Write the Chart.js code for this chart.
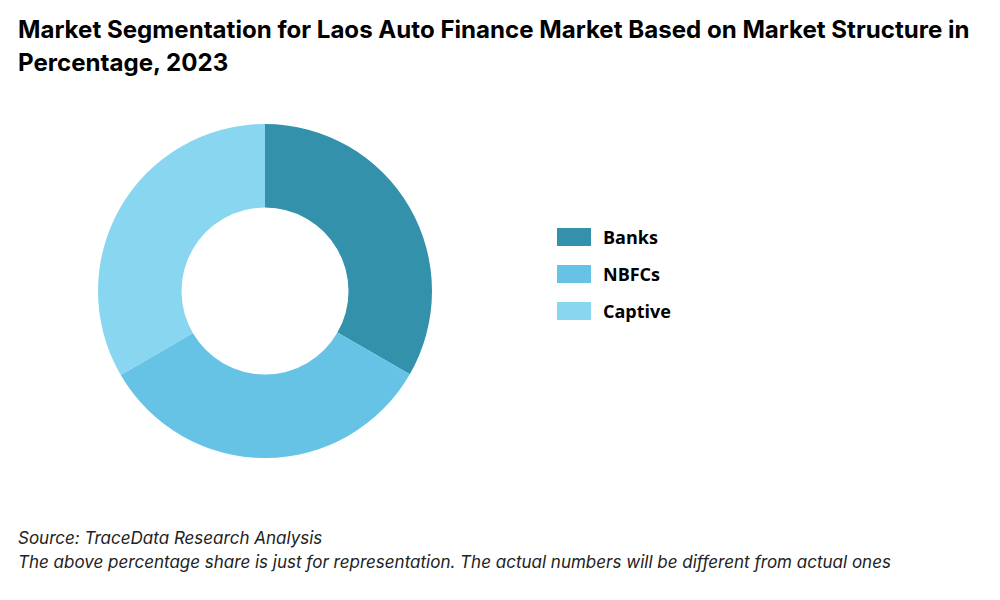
<!DOCTYPE html>
<html>
<head>
<meta charset="utf-8">
<script src="https://cdn.jsdelivr.net/npm/chart.js@4"></script>
<style>
body { margin: 0; width: 1000px; height: 600px; background: #fff; font-family: Inter, sans-serif; position: relative; overflow: hidden; }
#title { position: absolute; left: 18px; top: 13px; width: 978px; font-size: 24.1px; font-weight: 700; line-height: 33px; color: #000; }
#wrap { position: absolute; left: 98px; top: 124px; width: 334px; height: 334px; }
#legend { position: absolute; left: 557px; top: 218px; font-family: "Open Sans", sans-serif; font-weight: 700; font-size: 18px; }
.item { display: flex; align-items: center; height: 37px; }
.sw { width: 34px; height: 18px; margin-right: 12px; }
#foot { position: absolute; left: 18px; top: 526px; font-size: 17px; font-style: italic; line-height: 24px; color: #222; }
</style>
</head>
<body>
<div id="title">Market Segmentation for Laos Auto Finance Market Based on Market Structure in Percentage, 2023</div>
<div id="wrap"><canvas id="chart"></canvas></div>
<div id="legend"></div>
<div id="foot">Source: TraceData Research Analysis<br>The above percentage share is just for representation. The actual numbers will be different from actual ones</div>
<script>
const labels = ["Banks", "NBFCs", "Captive"];
const shares = [33.3, 33.3, 33.4];
const colors = ["#3391AB", "#66C3E6", "#88D6F0"];

new Chart(document.getElementById("chart"), {
    type: "doughnut",
    data: {
        labels: labels,
        datasets: [{ data: shares, backgroundColor: colors, borderWidth: 0 }]
    },
    options: {
        responsive: true,
        maintainAspectRatio: false,
        animation: false,
        cutout: "50%",
        plugins: { legend: { display: false }, tooltip: { enabled: false } }
    }
});

const legend = document.getElementById("legend");
labels.forEach((l, i) => {
    legend.innerHTML += `<div class="item"><div class="sw" style="background:${colors[i]}"></div>${l}</div>`;
});
</script>
</body>
</html>
